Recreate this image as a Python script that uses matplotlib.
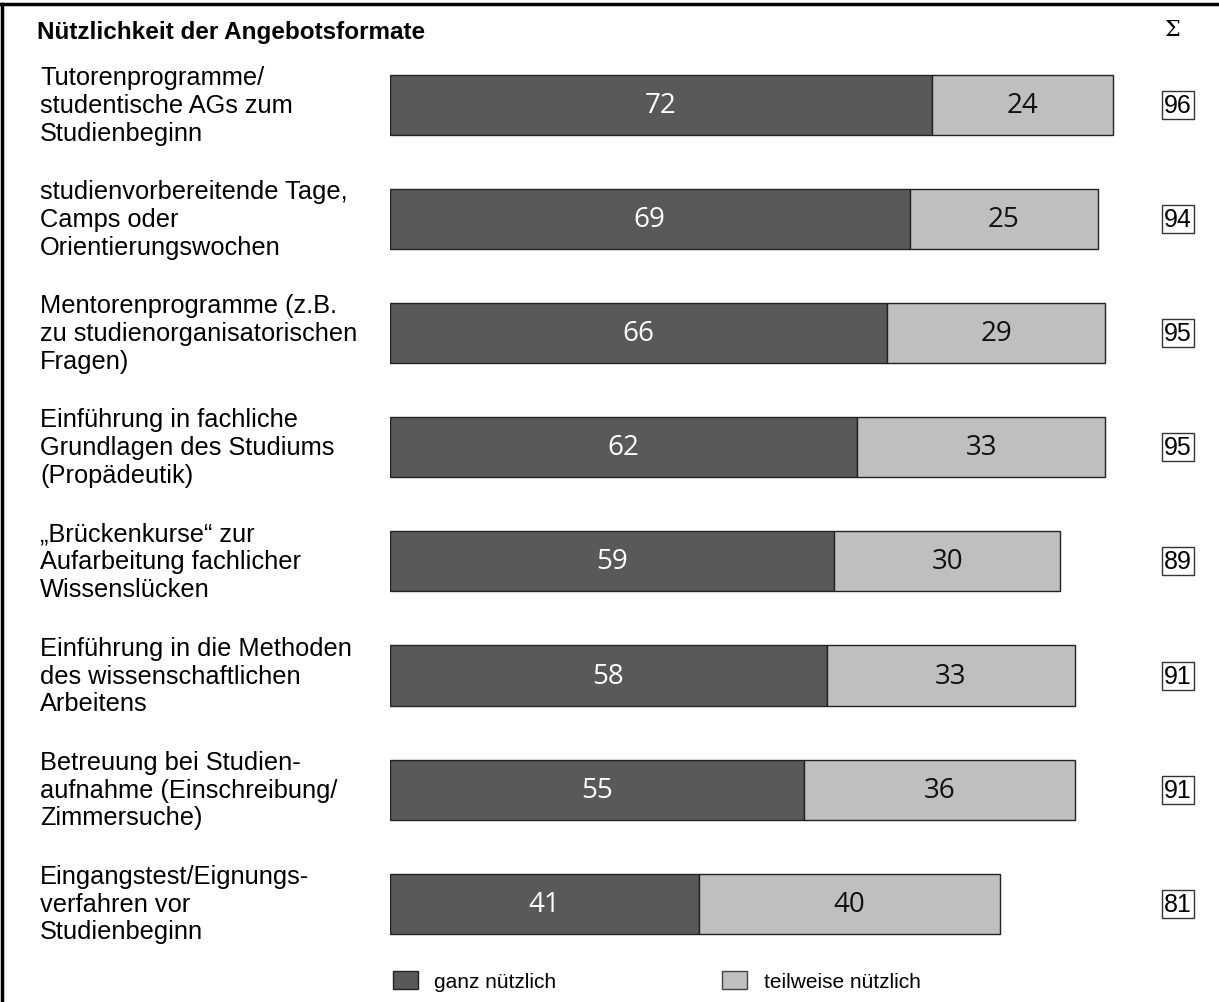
import matplotlib.pyplot as plt
import matplotlib.transforms as mtransforms
from matplotlib.patches import Patch
import numpy as np

# Daten
kategorien = [
    "Tutorenprogramme/\nstudentische AGs zum\nStudienbeginn",
    "studienvorbereitende Tage,\nCamps oder\nOrientierungswochen",
    "Mentorenprogramme (z.B.\nzu studienorganisatorischen\nFragen)",
    "Einführung in fachliche\nGrundlagen des Studiums\n(Propädeutik)",
    "„Brückenkurse“ zur\nAufarbeitung fachlicher\nWissenslücken",
    "Einführung in die Methoden\ndes wissenschaftlichen\nArbeitens",
    "Betreuung bei Studien-\naufnahme (Einschreibung/\nZimmersuche)",
    "Eingangstest/Eignungs-\nverfahren vor\nStudienbeginn",
]
ganz_nuetzlich = [72, 69, 66, 62, 59, 58, 55, 41]
teilweise_nuetzlich = [24, 25, 29, 33, 30, 33, 36, 40]
summen = [96, 94, 95, 95, 89, 91, 91, 81]

DUNKEL = "#595959"
HELL = "#bfbfbf"

W, H = 1219, 1003
fig = plt.figure(figsize=(W / 100, H / 100), dpi=100)

# Achse: links bei 390 px, 7.53 px pro Prozentpunkt
ax = fig.add_axes([390 / W, 0, 1 - 390 / W, 1])
ax.set_xlim(0, (W - 390) / 7.53)
ax.set_ylim((H - 106) / 114.1, -106 / 114.1)
ax.axis("off")

y = np.arange(len(kategorien))
ax.barh(y, ganz_nuetzlich, height=0.526, color=DUNKEL, edgecolor="#222222", linewidth=1)
ax.barh(y, teilweise_nuetzlich, left=ganz_nuetzlich, height=0.526, color=HELL,
        edgecolor="#222222", linewidth=1)

for i in range(len(kategorien)):
    ax.text(ganz_nuetzlich[i] / 2, y[i], str(ganz_nuetzlich[i]), ha="center", va="center",
            color="white", fontsize=20, family="Open Sans")
    ax.text(ganz_nuetzlich[i] + teilweise_nuetzlich[i] / 2, y[i], str(teilweise_nuetzlich[i]),
            ha="center", va="center", color="#111111", fontsize=20, family="Open Sans")

# Beschriftungen links und Summen rechts
trans = mtransforms.blended_transform_factory(fig.transFigure, ax.transData)
for i, lab in enumerate(kategorien):
    fig.text(40 / W, y[i], lab, transform=trans, ha="left", va="center",
             fontsize=18.3, family="Liberation Sans", linespacing=1.2)
    fig.text(1178 / W, y[i], str(summen[i]), transform=trans, ha="center", va="center",
             fontsize=18, family="Liberation Sans",
             bbox=dict(boxstyle="square,pad=0.08", facecolor="white", edgecolor="#333333", linewidth=1))

# Titel und Summenzeichen
fig.text(37 / W, 1 - 33 / H, "Nützlichkeit der Angebotsformate", ha="left", va="center",
         fontsize=17.5, fontweight="bold", family="Liberation Sans")
fig.text(1172 / W, 1 - 30 / H, "Σ", ha="center", va="center", fontsize=16, family="DejaVu Serif")

# Rahmenlinien
fig.add_artist(plt.Line2D([0, 1], [1 - 5 / H, 1 - 5 / H], transform=fig.transFigure,
                          color="black", linewidth=2.5))
fig.add_artist(plt.Line2D([2 / W, 2 / W], [0, 1 - 5 / H], transform=fig.transFigure,
                          color="black", linewidth=2.5))

# Legende
handles = [Patch(facecolor=DUNKEL, edgecolor="#222222", label="ganz nützlich"),
           Patch(facecolor=HELL, edgecolor="#444444", label="teilweise nützlich")]
fig.legend(handles=handles, loc="center left", bbox_to_anchor=(374 / W, 1 - 982 / H),
           ncol=2, frameon=False, handlelength=1.2, handleheight=1.0, handletextpad=0.8,
           columnspacing=7.95, prop={"family": "Liberation Sans", "size": 15})

fig.savefig("out.png", dpi=100)
